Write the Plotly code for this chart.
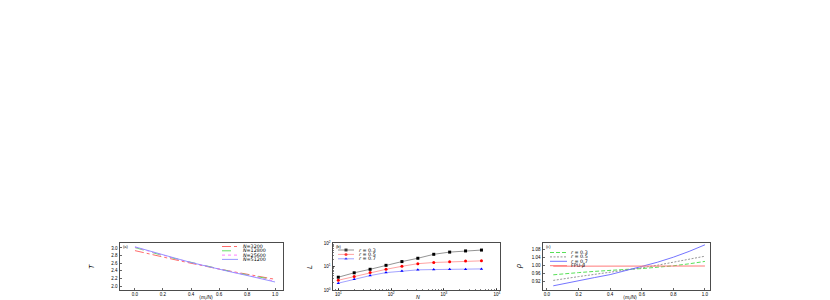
import plotly.graph_objects as go

W, H = 830, 300

# ---------------- Panel (a) data ----------------
frac_a = [0.0, 0.1, 0.2, 0.3, 0.4, 0.5, 0.6, 0.7, 0.8, 0.9, 1.0]
T_3200 = [2.93, 2.84, 2.76, 2.68, 2.60, 2.52, 2.45, 2.38, 2.31, 2.24, 2.18]
T_12800 = [3.01, 2.90, 2.80, 2.71, 2.62, 2.53, 2.45, 2.37, 2.30, 2.23, 2.16]
T_25600 = [3.02, 2.91, 2.81, 2.71, 2.62, 2.53, 2.45, 2.37, 2.29, 2.21, 2.13]
T_51200 = [3.03, 2.92, 2.81, 2.72, 2.62, 2.53, 2.45, 2.36, 2.28, 2.20, 2.11]
labels_a = ["<i>N</i>=3200", "<i>N</i>=12800", "<i>N</i>=25600", "<i>N</i>=51200"]
ticks_a_x = [0.0, 0.2, 0.4, 0.6, 0.8, 1.0]
ticks_a_y = [2.0, 2.2, 2.4, 2.6, 2.8, 3.0]

# ---------------- Panel (b) data ----------------
N_sizes = [10, 20, 40, 80, 160, 320, 640, 1280, 2560, 5120]
L_r03 = [3.5, 5.4, 7.6, 11.2, 16.2, 22.4, 33.0, 41.0, 46.0, 50.0]
L_r05 = [2.6, 3.8, 5.5, 7.6, 10.2, 13.2, 14.8, 15.8, 17.0, 17.4]
L_r07 = [1.95, 2.9, 4.1, 5.5, 6.5, 7.2, 7.4, 7.6, 7.6, 7.9]
labels_b = ["<i>r</i> = 0.3", "<i>r</i> = 0.5", "<i>r</i> = 0.7"]
ticks_b_x = [10, 100, 1000, 10000]
ticktext_b_x = ["10<sup>1</sup>", "10<sup>2</sup>", "10<sup>3</sup>", "10<sup>4</sup>"]
ticks_b_y = [1, 10, 100]
ticktext_b_y = ["10<sup>0</sup>", "10<sup>1</sup>", "10<sup>2</sup>"]

# ---------------- Panel (c) data ----------------
frac_c = [0.04, 0.1, 0.2, 0.3, 0.4, 0.5, 0.6, 0.7, 0.8, 0.9, 1.0]
rho_r03 = [0.955, 0.960, 0.966, 0.972, 0.978, 0.982, 0.986, 0.992, 1.000, 1.010, 1.022]
rho_r05 = [0.927, 0.935, 0.946, 0.957, 0.967, 0.978, 0.990, 1.003, 1.018, 1.033, 1.048]
rho_r07 = [0.900, 0.910, 0.926, 0.941, 0.956, 0.975, 0.997, 1.018, 1.043, 1.072, 1.105]
rho_fpu = [0.998, 0.998, 0.997, 0.997, 0.998, 0.998, 0.998, 0.998, 0.999, 0.999, 0.999]
labels_c = ["<i>r</i> = 0.3", "<i>r</i> = 0.5", "<i>r</i> = 0.7", "FPU-<i>β</i>"]
ticks_c_x = [0.0, 0.2, 0.4, 0.6, 0.8, 1.0]
ticks_c_y = [0.92, 0.96, 1.00, 1.04, 1.08]

FONT = "Liberation Sans, Arial, sans-serif"
LFONT = "DejaVu Sans, Liberation Sans, sans-serif"
TICKF = dict(size=4.5, family=FONT, color="black")

# pixel geometry of the three plot boxes
TOP, BOT = 243, 290
BOX_A = (120, 283)
BOX_B = (333, 500)
BOX_C = (543, 710)


def px(xp):
    return xp / W


def py(yp):
    return 1 - yp / H


def axis(box, rng, anchor, **kw):
    d = dict(domain=[px(box[0]), px(box[1])], range=rng, anchor=anchor,
             showline=True, linecolor="black", linewidth=0.7, mirror=True,
             ticks="inside", ticklen=2, tickwidth=0.6, tickcolor="black",
             ticklabelstandoff=0,
             tickfont=TICKF, showgrid=False, zeroline=False, fixedrange=True)
    d.update(kw)
    return d


def yaxis(rng, anchor, **kw):
    d = dict(domain=[py(BOT), py(TOP)], range=rng, anchor=anchor,
             showline=True, linecolor="black", linewidth=0.7, mirror=True,
             ticks="inside", ticklen=2, tickwidth=0.6, tickcolor="black",
             ticklabelstandoff=1,
             tickfont=TICKF, showgrid=False, zeroline=False, fixedrange=True)
    d.update(kw)
    return d


fig = go.Figure()

# ---- panel (a) traces
cols_a = ["#ff5a5a", "#55dd55", "#ff70ff", "#8c8cff"]
dash_a = ["dashdot", "dash", "dot", "solid"]
for ys, c, dsh, lab in zip([T_3200, T_12800, T_25600, T_51200], cols_a, dash_a, labels_a):
    fig.add_trace(go.Scatter(x=frac_a, y=ys, mode="lines", xaxis="x", yaxis="y",
                             line=dict(color=c, width=0.9, dash=dsh), name=lab,
                             showlegend=False))

# ---- panel (b) traces
line_b = ["#666666", "#ff7a7a", "#7a7aff"]
mark_b = ["#000000", "#ff0000", "#0000ff"]
sym_b = ["square", "circle", "triangle-up"]
for ys, lc, mc, s, lab in zip([L_r03, L_r05, L_r07], line_b, mark_b, sym_b, labels_b):
    fig.add_trace(go.Scatter(x=N_sizes, y=ys, mode="lines+markers", xaxis="x2", yaxis="y2",
                             line=dict(color=lc, width=0.7),
                             marker=dict(color=mc, symbol=s, size=3.0, line=dict(width=0)),
                             name=lab, showlegend=False))

# ---- panel (c) traces
cols_c = ["#44dd44", "#8a8a8a", "#6464ff", "#ff6a6a"]
dash_c = ["4px,2px", "2px,1.5px", "solid", "solid"]
for ys, c, dsh, lab in zip([rho_r03, rho_r05, rho_r07, rho_fpu], cols_c, dash_c, labels_c):
    fig.add_trace(go.Scatter(x=frac_c, y=ys, mode="lines", xaxis="x3", yaxis="y3",
                             line=dict(color=c, width=0.9, dash=dsh), name=lab,
                             showlegend=False))

# ---- hand-drawn legends on a hidden pixel overlay axis
annotations = []


def legend_line(x0, x1, y, color, dash, width=0.9, marker=None, mcolor=None):
    if marker:
        fig.add_trace(go.Scatter(x=[x0, (x0 + x1) / 2, x1], y=[y, y, y], mode="lines+markers",
                                 xaxis="x4", yaxis="y4", showlegend=False, hoverinfo="skip",
                                 line=dict(color=color, width=width, dash=dash),
                                 marker=dict(size=[0, 3.0, 0], symbol=marker, color=mcolor,
                                             line=dict(width=0))))
    else:
        fig.add_trace(go.Scatter(x=[x0, x1], y=[y, y], mode="lines", xaxis="x4", yaxis="y4",
                                 showlegend=False, hoverinfo="skip",
                                 line=dict(color=color, width=width, dash=dash)))


def legend_text(x, y, text, size=4.8):
    annotations.append(dict(x=x, y=y, xref="x4", yref="y4", text=text, showarrow=False,
                            xanchor="left", yanchor="middle", borderpad=0,
                            font=dict(size=size, family=LFONT, color="black")))


# legend (a): top right
rows_a = [246.5, 250.8, 255.1, 259.4]
for r, c, dsh, lab in zip(rows_a, cols_a, dash_a, labels_a):
    legend_line(222, 238, r, c, dsh)
    legend_text(242, r, lab)

# legend (b): top left
rows_b = [250, 254.4, 258.8]
for r, lc, mc, s, lab in zip(rows_b, line_b, mark_b, sym_b, labels_b):
    legend_line(338, 354, r, lc, "solid", width=0.7, marker=s, mcolor=mc)
    legend_text(358, r, lab)

# legend (c): top left
rows_c = [252.5, 256.9, 261.3, 265.7]
for r, c, dsh, lab in zip(rows_c, cols_c, dash_c, labels_c):
    legend_line(550, 567, r, c, dsh)
    legend_text(570, r, lab)

# panel letters
for x, lab in [(122, "(a)"), (335, "(b)"), (545, "(c)")]:
    annotations.append(dict(x=x, y=246, xref="x4", yref="y4", text=lab, showarrow=False,
                            xanchor="left", yanchor="middle", borderpad=0,
                            font=dict(size=4, family=FONT, color="black")))

# axis titles
TF = dict(size=7, family=FONT, color="black")
XF = dict(size=5.2, family=FONT, color="black")
for x, y, t in [(91, 267, "<i>T</i>"), (309, 267, "<i>L</i>"), (519, 267, "<i>ρ</i>")]:
    annotations.append(dict(x=x, y=y, xref="x4", yref="y4", text=t, showarrow=False,
                            textangle=-90, xanchor="center", yanchor="middle", font=TF))
for x, y, t in [(206, 297.3, "⟨<i>m<sub>i</sub></i>/<i>N</i>⟩"),
                (418, 297.3, "<i>N</i>"),
                (630, 297.3, "⟨<i>m<sub>i</sub></i>/<i>N</i>⟩")]:
    annotations.append(dict(x=x, y=y, xref="x4", yref="y4", text=t, showarrow=False,
                            xanchor="center", yanchor="middle", borderpad=0, font=XF))

fig.update_layout(
    width=W, height=H,
    margin=dict(l=0, r=0, t=0, b=0, pad=0),
    paper_bgcolor="white", plot_bgcolor="rgba(0,0,0,0)",
    template="none",
    showlegend=False,
    font=dict(family=FONT, color="black"),
    xaxis=axis(BOX_A, [-0.107, 1.057], "y", tickvals=ticks_a_x, tickformat=".1f"),
    yaxis=yaxis([1.9, 3.13], "x", tickvals=ticks_a_y, tickformat=".1f"),
    xaxis2=axis(BOX_B, [0.9, 4.06], "y2", type="log", tickvals=ticks_b_x,
                ticktext=ticktext_b_x,
                minor=dict(ticks="inside", ticklen=1.2, tickwidth=0.5, tickcolor="black",
                           dtick="D1", showgrid=False)),
    yaxis2=yaxis([0, 2], "x2", type="log", tickvals=ticks_b_y, ticktext=ticktext_b_y,
                 minor=dict(ticks="inside", ticklen=1.2, tickwidth=0.5, tickcolor="black",
                            dtick="D1", showgrid=False)),
    xaxis3=axis(BOX_C, [-0.025, 1.032], "y3", tickvals=ticks_c_x, tickformat=".1f"),
    yaxis3=yaxis([0.879, 1.114], "x3", tickvals=ticks_c_y, tickformat=".2f"),
    xaxis4=dict(domain=[0, 1], range=[0, W], visible=False, showticklabels=False,
                fixedrange=True, anchor="y4"),
    yaxis4=dict(domain=[0, 1], range=[H, 0], visible=False, showticklabels=False,
                fixedrange=True, anchor="x4"),
    annotations=annotations,
)

# remove the browser's default 8px body margin so the figure sits at the page origin
fig.write_html("out.html",
               config={"displayModeBar": False, "staticPlot": True},
               post_script="document.body.style.margin='0';document.body.style.overflow='hidden';")
